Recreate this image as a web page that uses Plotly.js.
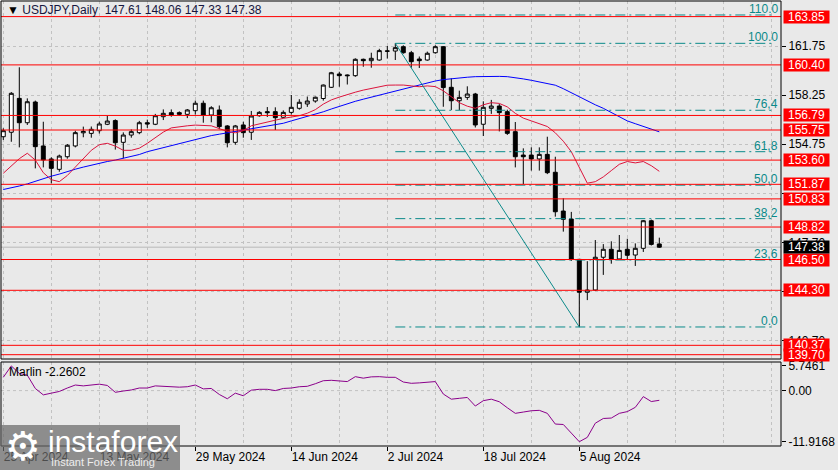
<!DOCTYPE html>
<html>
<head>
<meta charset="utf-8">
<script src="https://cdn.plot.ly/plotly-3.0.1.min.js"></script>
<style>
html,body{margin:0;padding:0;background:#E9E9E9;}
#chart{width:838px;height:470px;}
</style>
</head>
<body>
<div id="chart"></div>
<script>
// ---------- DATA ----------
const symbolTitle = "USDJPY,Daily";
const dateLabels = ["25 Apr 2024","13 May 2024","29 May 2024","14 Jun 2024","2 Jul 2024","18 Jul 2024","5 Aug 2024"];
const dateLabelBars = [0,12,24,36,48,60,72];

const open = [155.27,155.59,158.01,156.27,157.75,154.61,153.68,152.94,153.84,154.61,
155.55,155.51,155.70,156.16,156.42,154.87,155.39,155.56,156.27,156.16,
156.70,156.99,156.99,156.87,157.13,157.66,156.82,157.18,156.04,154.87,
156.11,155.59,156.77,157.06,157.06,156.66,157.01,157.30,157.61,157.82,
158.00,158.80,159.75,159.68,159.63,160.80,160.70,160.75,161.40,161.39,
161.70,161.27,160.82,160.75,161.27,161.70,158.80,157.84,158.08,158.32,
156.16,157.30,157.46,157.06,155.63,153.96,153.96,153.68,154.01,152.73,
149.96,149.39,146.51,144.16,144.32,146.66,147.23,146.54,147.23,146.82,
147.30,149.27,147.61];
const high = [155.87,158.46,160.23,158.01,157.85,156.34,153.80,153.99,154.75,155.70,
155.99,156.00,156.34,156.75,156.51,155.58,155.79,156.40,156.49,156.90,
157.22,157.22,157.08,157.25,157.85,157.85,157.45,157.50,156.10,156.11,
156.34,157.11,157.10,157.39,157.37,157.15,158.25,157.95,158.14,158.14,
159.00,159.90,159.91,159.72,160.87,160.85,161.27,161.55,161.75,161.94,
161.80,161.40,161.00,161.35,161.80,161.75,159.44,158.56,158.87,158.40,
157.80,157.90,157.60,157.20,156.32,154.44,154.51,154.51,155.27,153.84,
150.87,149.90,146.55,146.38,147.89,147.60,147.80,148.25,147.98,147.65,
149.32,149.35,148.06];
const low = [155.04,154.91,154.51,156.11,153.01,153.08,151.94,152.77,153.70,154.51,
155.23,155.20,155.50,156.10,154.35,153.73,155.20,155.45,155.90,156.10,
156.46,156.70,156.75,156.60,156.85,156.27,156.30,155.80,154.51,154.70,
155.20,155.04,156.70,156.68,155.75,156.60,156.85,157.20,157.40,157.70,
157.85,158.75,158.84,159.00,159.55,160.27,160.20,160.70,160.85,160.75,
161.20,160.20,160.18,160.70,161.20,157.41,157.18,157.18,157.90,155.93,
155.32,156.90,155.65,155.40,153.08,151.89,152.85,152.85,152.60,149.56,
148.49,146.40,141.68,143.60,144.25,145.40,146.20,146.48,146.52,146.04,
147.04,147.50,147.33];
const close = [155.70,158.37,156.27,157.77,154.56,153.61,153.01,153.89,154.66,155.56,
155.65,155.80,156.18,156.39,154.84,155.39,155.63,156.27,156.18,156.77,
156.94,156.82,156.87,157.18,157.66,156.82,157.34,155.99,154.84,156.04,
155.56,156.75,157.01,156.99,156.63,157.01,157.37,157.73,157.82,158.09,
158.96,159.84,159.63,159.63,160.80,160.70,160.87,161.42,161.38,161.63,
161.27,160.63,160.70,161.23,161.70,158.78,157.84,158.08,158.32,156.11,
157.37,157.46,156.99,155.51,153.84,153.84,153.68,154.01,152.70,149.91,
149.37,146.51,144.16,144.32,146.66,147.23,146.54,147.15,146.80,147.30,
149.27,147.58,147.38];

// fast moving average (red) and slow moving average (blue)
const maFast = [152.66,153.20,153.70,154.09,153.60,152.70,152.20,152.06,152.50,153.10,
153.70,154.30,154.70,154.80,154.60,154.30,154.30,154.45,154.80,155.20,
155.60,155.90,156.00,156.05,156.10,156.10,156.05,155.85,155.65,155.55,
155.70,156.05,156.20,156.35,156.45,156.58,156.68,156.77,156.95,157.20,
157.60,157.90,158.10,158.30,158.45,158.60,158.70,158.85,158.95,158.96,
158.96,158.90,158.84,158.90,158.85,158.55,158.10,157.70,157.45,157.30,
157.55,157.70,157.65,157.40,156.94,156.60,156.40,156.20,156.00,155.55,
154.95,154.20,153.10,151.95,152.06,152.40,152.85,153.30,153.50,153.40,
153.50,153.20,152.80];
const maSlow = [151.50,151.60,151.75,151.90,152.10,152.30,152.45,152.60,152.80,152.95,
153.10,153.25,153.37,153.50,153.60,153.73,153.85,154.00,154.20,154.35,
154.50,154.62,154.80,154.95,155.10,155.25,155.35,155.45,155.55,155.62,
155.72,155.80,155.90,156.00,156.10,156.23,156.40,156.55,156.70,156.90,
157.05,157.25,157.45,157.65,157.80,157.95,158.10,158.20,158.35,158.50,
158.65,158.80,158.95,159.10,159.25,159.35,159.42,159.48,159.52,159.56,
159.58,159.58,159.58,159.56,159.50,159.40,159.30,159.18,159.05,158.95,
158.70,158.40,158.13,157.85,157.55,157.30,157.00,156.70,156.40,156.20,
156.00,155.80,155.62];

// Marlin oscillator
const marlinName = "Marlin";
const marlin = [3.10,5.75,4.00,3.60,0.50,-1.00,-0.60,-0.20,0.60,1.30,
1.10,1.30,1.50,1.20,-0.40,-0.10,0.15,0.60,0.60,1.10,
1.00,0.80,0.80,0.90,1.30,0.40,0.50,-0.90,-1.90,-0.60,
-1.20,0.10,0.30,0.30,0.00,0.50,0.60,0.90,1.00,1.60,
2.30,2.40,2.30,2.10,3.25,2.90,3.20,3.25,3.10,3.10,
2.00,1.70,1.80,1.90,2.10,-0.80,-2.00,-1.80,-1.60,-3.60,
-2.35,-2.00,-2.60,-4.00,-5.30,-5.00,-4.70,-4.60,-5.30,-7.80,
-7.90,-9.90,-11.9168,-10.90,-7.60,-6.50,-6.40,-5.30,-4.90,-3.90,
-1.40,-2.55,-2.2602];
const marlinAxis = [5.7461, 0, -11.9168];

// horizontal support / resistance levels
const levels = [163.85,160.40,156.79,155.75,153.60,151.87,150.83,148.82,146.50,144.30,140.37,139.70];
// price axis ticks (labels of 151.22 and 144.20 are fully hidden behind level boxes)
const priceTicks = [161.75,158.25,154.75,151.22,147.70,144.20,140.70];
const priceTickText = ["161.75","158.25","154.75","","147.70","","140.70"];
// fibonacci ratios and their labels
const fibRatios = [1.10,1.00,0.764,0.618,0.50,0.382,0.236,0.0];
const fibLabels = ["110.0","100.0","76,4","61,8","50,0","38,2","23,6","0.0"];

// ---------- BUILD ----------
const n = close.length;
const idx = close.map((_, i) => i);
const FONT = "Liberation Sans, Arial, sans-serif";
const GRID = "#C2C2C2";
const TEAL = "#0B8A8A";

const W = 838, H = 470;
const mL = 1, mR = 57, mT = 1, mB = 24;
const plotW = W - mL - mR;
const plotH = H - mT - mB;
const pxX = px => (px - mL) / plotW;
const pxY = py => (H - mB - py) / plotH;

let hiIdx = 0, loIdx = 0;
for (let i = 0; i < n; i++) {
  if (high[i] > high[hiIdx]) hiIdx = i;
  if (low[i] < low[loIdx]) loIdx = i;
}
const fibHi = high[hiIdx], fibLo = low[loIdx];
const fibLevels = fibRatios.map(r => fibLo + r * (fibHi - fibLo));

const traces = [
  {
    type: "candlestick", x: idx, open: open, high: high, low: low, close: close,
    xaxis: "x", yaxis: "y",
    increasing: {line: {color: "#000000", width: 1}, fillcolor: "#FFFFFF"},
    decreasing: {line: {color: "#000000", width: 1}, fillcolor: "#000000"},
    whiskerwidth: 0, hoverinfo: "skip", showlegend: false
  },
  {type: "scatter", mode: "lines", x: idx, y: maSlow, xaxis: "x", yaxis: "y",
   line: {color: "#0000FF", width: 1}, hoverinfo: "skip", showlegend: false},
  {type: "scatter", mode: "lines", x: idx, y: maFast, xaxis: "x", yaxis: "y",
   line: {color: "#DC143C", width: 1}, hoverinfo: "skip", showlegend: false},
  {type: "scatter", mode: "lines", x: idx, y: marlin, xaxis: "x", yaxis: "y2",
   line: {color: "#8B008B", width: 1}, hoverinfo: "skip", showlegend: false}
];

const shapes = [];
const annotations = [];

shapes.push({type: "line", xref: "paper", x0: 0, x1: 1, yref: "y2", y0: 0, y1: 0,
  line: {color: GRID, width: 1, dash: "3px,3px"}, layer: "below"});

shapes.push({type: "line", xref: "paper", x0: 0, x1: 1, yref: "y", y0: close[n-1], y1: close[n-1],
  line: {color: "#B8B8B8", width: 1}, layer: "below"});

fibLevels.forEach((lv, k) => {
  shapes.push({type: "line", xref: "x", x0: hiIdx, x1: 96.5, yref: "y", y0: lv, y1: lv,
    line: {color: TEAL, width: 1, dash: "10px,4px,2px,4px"}, layer: "above"});
  annotations.push({xref: "paper", x: pxX(780), xanchor: "right", yref: "y", y: lv, yanchor: "bottom",
    yshift: -3, text: fibLabels[k], showarrow: false, font: {family: FONT, size: 12, color: TEAL}});
});

shapes.push({type: "line", xref: "x", x0: hiIdx, x1: loIdx, yref: "y", y0: fibHi, y1: fibLo,
  line: {color: TEAL, width: 1}, layer: "above"});

levels.forEach(lv => {
  shapes.push({type: "line", xref: "paper", x0: 0, x1: 1, yref: "y", y0: lv, y1: lv,
    line: {color: "#FF0000", width: 1}, layer: "above"});
});

shapes.push({type: "rect", xref: "paper", x0: 0, x1: 1, yref: "y domain", y0: 0, y1: 1,
  line: {color: "#000000", width: 1}, fillcolor: "rgba(0,0,0,0)", layer: "above"});
shapes.push({type: "rect", xref: "paper", x0: 0, x1: 1, yref: "y2 domain", y0: 0, y1: 1,
  line: {color: "#000000", width: 1}, fillcolor: "rgba(0,0,0,0)", layer: "above"});

shapes.push({type: "rect", xref: "paper", yref: "paper", x0: pxX(0), x1: pxX(180), y0: pxY(470), y1: pxY(425),
  line: {width: 0}, fillcolor: "rgba(105,105,105,0.72)", layer: "above"});

levels.forEach(lv => {
  annotations.push({xref: "paper", x: pxX(783), xanchor: "left", yref: "y", y: lv, yanchor: "middle",
    text: lv.toFixed(2), showarrow: false, width: 45, height: 12, bgcolor: "#FF0000", borderpad: 0,
    align: "center", font: {family: FONT, size: 12, color: "#FFFFFF"}});
});
annotations.push({xref: "paper", x: pxX(783), xanchor: "left", yref: "y", y: close[n-1], yanchor: "middle",
  text: close[n-1].toFixed(2), showarrow: false, width: 45, height: 12, bgcolor: "#000000", borderpad: 0,
  align: "center", font: {family: FONT, size: 12, color: "#FFFFFF"}});

annotations.push({xref: "paper", yref: "paper", x: pxX(5), y: pxY(10), xanchor: "left", yanchor: "middle",
  showarrow: false, align: "left",
  text: "<span style='color:#000'>▼</span> " + symbolTitle + "  " + open[n-1].toFixed(2) + " " + high[n-1].toFixed(2) + " " + low[n-1].toFixed(2) + " " + close[n-1].toFixed(2),
  font: {family: FONT, size: 12, color: "#16163E"}});

annotations.push({xref: "paper", yref: "paper", x: pxX(7), y: pxY(372), xanchor: "left", yanchor: "middle",
  showarrow: false, text: marlinName + " " + marlin[n-1].toFixed(4),
  font: {family: FONT, size: 12, color: "#000000"}});

annotations.push({xref: "paper", yref: "paper", x: pxX(4), y: pxY(446), xanchor: "left", yanchor: "middle",
  showarrow: false, text: "⚙", borderpad: 0, font: {family: "DejaVu Sans", size: 40, color: "#FFFFFF"}});
annotations.push({xref: "paper", yref: "paper", x: pxX(46), y: pxY(441), xanchor: "left", yanchor: "middle",
  showarrow: false, text: "instaforex", font: {family: FONT, size: 30, color: "#FFFFFF"}});
annotations.push({xref: "paper", yref: "paper", x: pxX(49), y: pxY(462), xanchor: "left", yanchor: "middle",
  showarrow: false, text: "Instant Forex Trading", font: {family: FONT, size: 11, color: "#EDEDED"}});

const layout = {
  width: W, height: H,
  margin: {l: mL, r: mR, t: mT, b: mB, pad: 0},
  paper_bgcolor: "#E9E9E9", plot_bgcolor: "#E9E9E9",
  showlegend: false, hovermode: false, dragmode: false,
  font: {family: FONT, size: 12, color: "#000000"},
  xaxis: {
    domain: [0, 1], anchor: "y2", range: [-0.2875, 97.2125],
    tickmode: "array", tickvals: dateLabelBars, ticktext: dateLabels,
    ticks: "outside", ticklen: 4, tickcolor: "#000000", tickwidth: 1,
    ticklabelposition: "outside right",
    tickfont: {family: FONT, size: 12, color: "#000000"},
    showgrid: true, gridcolor: GRID, griddash: "3px,3px", gridwidth: 1,
    minor: {tickmode: "linear", tick0: 0, dtick: 6, showgrid: true, gridcolor: GRID, griddash: "3px,3px", ticks: ""},
    showline: false, zeroline: false, rangeslider: {visible: false}, fixedrange: true
  },
  yaxis: {
    domain: [pxY(359), pxY(1)], anchor: "x", side: "right",
    range: [139.393, 164.964],
    tickmode: "array", tickvals: priceTicks, ticktext: priceTickText,
    ticks: "outside", ticklen: 4, tickcolor: "#000000",
    tickfont: {family: FONT, size: 12, color: "#000000"},
    showgrid: true, gridcolor: GRID, griddash: "3px,3px",
    zeroline: false, showline: false, fixedrange: true
  },
  yaxis2: {
    domain: [pxY(446), pxY(362)], anchor: "x", side: "right",
    range: [-12.914, 6.667],
    tickmode: "array", tickvals: marlinAxis, ticktext: ["5.7461", "0.00", "-11.9168"],
    ticks: "outside", ticklen: 4, tickcolor: "#000000",
    tickfont: {family: FONT, size: 12, color: "#000000"},
    showgrid: false, zeroline: false, showline: false, fixedrange: true
  },
  shapes: shapes,
  annotations: annotations
};

Plotly.newPlot("chart", traces, layout, {staticPlot: true, displayModeBar: false});
</script>
</body>
</html>
